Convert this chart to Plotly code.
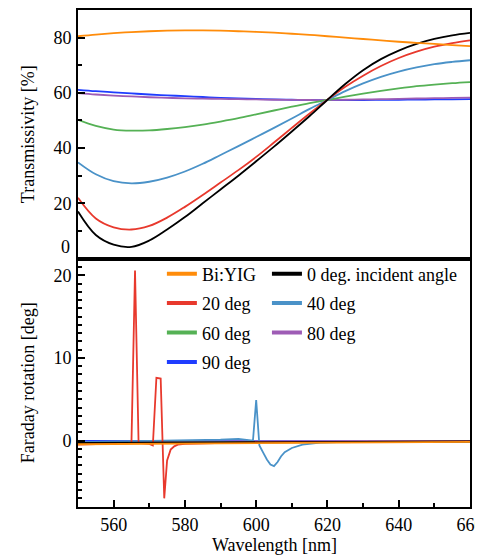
import plotly.graph_objects as go

# ---------------- data ----------------
wavelength = [550, 555, 560, 565, 570, 575, 580, 585, 590, 595, 600, 605,
              610, 615, 620, 625, 630, 635, 640, 645, 650, 655, 660]

trans_biyig = [80.5, 81.1, 81.6, 82.0, 82.3, 82.5, 82.6, 82.6, 82.5, 82.3, 82.1, 81.8,
               81.4, 81.0, 80.5, 80.0, 79.5, 79.0, 78.5, 78.1, 77.7, 77.3, 76.9]
trans_0 = [17.0, 8.5, 5.0, 4.2, 6.5, 10.5, 15.0, 20.0, 25.0, 30.0, 35.2, 40.5,
           46.0, 51.6, 57.5, 63.2, 68.2, 72.2, 75.3, 77.7, 79.5, 80.8, 81.7]
trans_20 = [22.0, 14.5, 11.3, 10.5, 11.8, 14.8, 18.7, 23.0, 27.5, 32.0, 36.8, 42.0,
            47.3, 52.5, 57.5, 62.2, 66.2, 69.7, 72.6, 74.9, 76.7, 78.0, 79.0]
trans_40 = [34.8, 30.5, 28.0, 27.2, 27.8, 29.3, 31.5, 34.3, 37.5, 40.7, 44.0, 47.3,
            50.7, 54.2, 57.4, 60.6, 63.4, 65.8, 67.7, 69.2, 70.4, 71.2, 71.8]
trans_60 = [50.2, 48.0, 46.7, 46.3, 46.4, 46.9, 47.6, 48.5, 49.6, 50.8, 52.2, 53.6,
            55.0, 56.3, 57.4, 58.6, 59.7, 60.7, 61.6, 62.4, 63.0, 63.5, 63.9]
trans_80 = [59.9, 59.4, 59.0, 58.7, 58.4, 58.2, 58.0, 57.9, 57.8, 57.7, 57.6, 57.5,
            57.45, 57.4, 57.4, 57.5, 57.6, 57.7, 57.8, 57.95, 58.05, 58.15, 58.25]
trans_90 = [61.1, 60.6, 60.2, 59.8, 59.4, 59.1, 58.8, 58.5, 58.2, 58.0, 57.8, 57.6,
            57.5, 57.4, 57.4, 57.4, 57.4, 57.45, 57.5, 57.55, 57.6, 57.65, 57.7]

far_biyig_x = [550, 580, 620, 660]
far_biyig_y = [-0.45, -0.35, -0.2, -0.15]
far_0_x = [550, 600, 660]
far_0_y = [-0.3, -0.2, -0.1]
far_20_x = [550, 560, 565, 566, 567, 570, 571, 572, 573.2, 574.2, 575, 576, 577, 578, 580, 600, 660]
far_20_y = [-0.5, -0.35, -0.3, 20.6, -0.3, -0.4, -0.6, 7.6, 7.5, -7.0, -2.4, -1.1, -0.7, -0.5, -0.4, -0.2, -0.1]
far_40_x = [550, 580, 590, 595, 598, 599.1, 600, 600.9, 602, 603, 604, 605, 606, 607, 608, 610, 613, 618, 625, 660]
far_40_y = [-0.2, 0.0, 0.1, 0.2, 0.1, 0.0, 4.9, -0.6, -1.5, -2.3, -2.9, -3.1, -2.6, -1.9, -1.4, -0.9, -0.5, -0.25, -0.15, -0.1]
far_60_x = [550, 600, 620, 660]
far_60_y = [-0.3, -0.25, -0.25, -0.15]
far_80_x = [550, 660]
far_80_y = [-0.15, -0.05]
far_90_x = [550, 600, 660]
far_90_y = [-0.05, -0.1, -0.1]

names = ["Bi:YIG", "0 deg. incident angle", "20 deg", "40 deg", "60 deg", "80 deg", "90 deg"]
colors = ["#ff8c0a", "#000000", "#e8392d", "#4a92c8", "#55b155", "#9e5cb5", "#1f3dff"]
legend_col = ["legend", "legend2", "legend", "legend2", "legend", "legend2", "legend"]

top_y = [trans_biyig, trans_0, trans_20, trans_40, trans_60, trans_80, trans_90]
bot_xy = [(far_biyig_x, far_biyig_y), (far_0_x, far_0_y), (far_20_x, far_20_y),
          (far_40_x, far_40_y), (far_60_x, far_60_y), (far_80_x, far_80_y),
          (far_90_x, far_90_y)]

FONT = "Liberation Serif"


def tf():
    return dict(family=FONT, size=18, color="black")


fig = go.Figure()

draw_order = [6, 5, 4, 3, 2, 1, 0]
for i in draw_order:
    fig.add_trace(go.Scatter(x=wavelength, y=top_y[i], mode="lines", line_shape="spline",
                             line=dict(color=colors[i], width=1.8), showlegend=False,
                             xaxis="x", yaxis="y", hoverinfo="skip"))
for i in draw_order:
    bx, by = bot_xy[i]
    fig.add_trace(go.Scatter(x=bx, y=by, mode="lines",
                             line=dict(color=colors[i], width=1.8), showlegend=False,
                             xaxis="x2", yaxis="y2", hoverinfo="skip"))
# legend entries (two columns = two legends)
for i in range(len(names)):
    fig.add_trace(go.Scatter(x=[None], y=[None], mode="lines", name=names[i],
                             line=dict(color=colors[i], width=4), showlegend=True,
                             legend=legend_col[i], legendgroup="g%d" % i,
                             xaxis="x2", yaxis="y2"))


def ax(**kw):
    d = dict(showline=True, linecolor="black", linewidth=2, mirror=True,
             ticks="inside", tickcolor="black", showgrid=False, zeroline=False,
             tickfont=tf(), automargin=False)
    d.update(kw)
    return d


def leg(**kw):
    d = dict(orientation="v", yanchor="top", xanchor="left",
             bgcolor="rgba(0,0,0,0)", font=tf(),
             itemwidth=30, tracegroupgap=3, traceorder="grouped")
    d.update(kw)
    return d


SPLIT = 0.5
fig.update_layout(
    width=483, height=555,
    margin=dict(l=70, r=21, t=2, b=56, autoexpand=False),
    paper_bgcolor="white", plot_bgcolor="white",
    xaxis=ax(range=[550, 660], domain=[0, 1], anchor="y",
             showticklabels=False, tickvals=[]),
    yaxis=ax(range=[0, 90], domain=[SPLIT, 1], anchor="x",
             tickvals=[20, 40, 60, 80], ticklen=7, tickwidth=1.5, ticklabelstandoff=1,
             minor=dict(ticks="inside", dtick=10, tick0=0, ticklen=4, tickcolor="black", tickwidth=1.5),
             title=dict(text="Transmissivity [%]", font=tf(), standoff=14)),
    xaxis2=ax(range=[550, 660], domain=[0, 1], anchor="y2",
              tickvals=[560, 580, 600, 620, 640, 660], ticklen=7, tickwidth=1.5,
              minor=dict(ticks="inside", dtick=10, tick0=550, ticklen=4, tickcolor="black", tickwidth=1.5)),
    yaxis2=ax(range=[-8.05, 22.05], domain=[0, SPLIT], anchor="x2",
              tickvals=[0, 10, 20], ticklen=7, tickwidth=1.5, ticklabelstandoff=1,
              minor=dict(ticks="inside", dtick=1, tick0=0, ticklen=4, tickcolor="black", tickwidth=1.5),
              title=dict(text="Faraday rotation [deg]", font=tf(), standoff=14)),
    legend=leg(x=0.214, y=0.506),
    legend2=leg(x=0.482, y=0.506),
    annotations=[
        dict(text="0", xref="paper", x=0, xanchor="right", xshift=-6,
             yref="y", y=0, yanchor="middle", yshift=12, showarrow=False,
             font=tf()),
        dict(text="Wavelength [nm]", xref="paper", x=0.5, xanchor="center",
             yref="paper", y=0, yanchor="top", yshift=-26, showarrow=False,
             font=tf()),
    ],
)

fig.write_html("out.html")
